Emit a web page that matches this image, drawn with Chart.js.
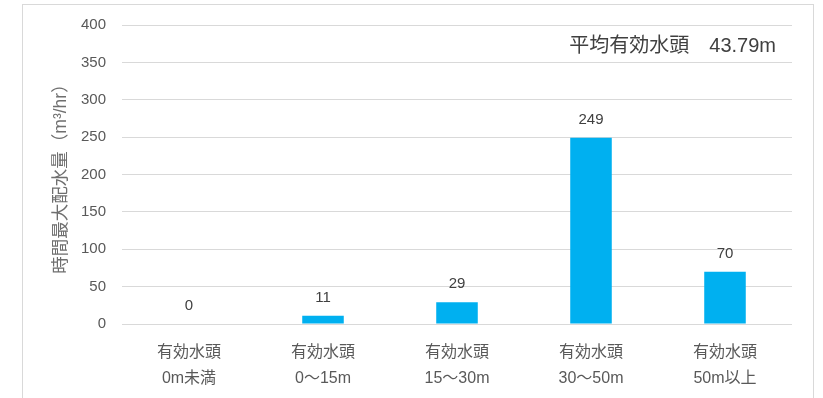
<!DOCTYPE html>
<html>
<head>
<meta charset="utf-8">
<script src="https://cdn.jsdelivr.net/npm/chart.js@4/dist/chart.umd.min.js"></script>
<style>
    body { margin: 0; background: #fff; }
    #wrap { position: relative; width: 823px; height: 398px; }
    #frame {
        position: absolute; left: 22px; top: 4px; width: 792px; height: 400px;
        border: 1px solid #d9d9d9; box-sizing: border-box;
    }
    canvas { position: absolute; left: 0; top: 0; }
</style>
</head>
<body>
<div id="wrap">
    <div id="frame"></div>
    <canvas id="chart" width="823" height="398"></canvas>
</div>
<script>
// chart data
const categories = [
    ['有効水頭', '0m未満'],
    ['有効水頭', '0～15m'],
    ['有効水頭', '15～30m'],
    ['有効水頭', '30～50m'],
    ['有効水頭', '50m以上'],
];
const flowValues = [0, 11, 29, 249, 70];
const yTicks = [0, 50, 100, 150, 200, 250, 300, 350, 400];
const yTitle = '時間最大配水量（m³/hr）';
const noteText = '平均有効水頭　43.79m';

const FONT = "'Liberation Sans', 'Noto Sans CJK JP', sans-serif";

// value labels above bars + note in the top right
const labelPlugin = {
    id: 'labels',
    afterDatasetsDraw(chart) {
        const ctx = chart.ctx;
        const meta = chart.getDatasetMeta(0);
        ctx.save();
        ctx.font = '15px ' + FONT;
        ctx.fillStyle = '#404040';
        ctx.textAlign = 'center';
        ctx.textBaseline = 'middle';
        meta.data.forEach((bar, i) => {
            ctx.fillText(String(flowValues[i]), bar.x, bar.y - 18);
        });
        ctx.font = '20px ' + FONT;
        ctx.textAlign = 'right';
        ctx.fillText(noteText, chart.chartArea.right - 16, 46);
        ctx.restore();
    },
};

const ctx = document.getElementById('chart').getContext('2d');
new Chart(ctx, {
    type: 'bar',
    data: {
        labels: categories,
        datasets: [
            {
                data: flowValues,
                backgroundColor: '#00B0F0',
                barPercentage: 0.31,
                categoryPercentage: 1,
            },
        ],
    },
    options: {
        responsive: false,
        animation: false,
        layout: { padding: { top: 25, right: 31, left: 0, bottom: 0 } },
        plugins: {
            legend: { display: false },
            tooltip: { enabled: false },
        },
        scales: {
            x: {
                grid: { display: false },
                border: { display: false },
                ticks: {
                    color: '#595959',
                    padding: 8,
                    font: { family: FONT, size: 16, lineHeight: 1.625 },
                    maxRotation: 0,
                },
                afterFit(scale) { scale.height = 74; },
            },
            y: {
                min: 0,
                max: 400,
                afterBuildTicks(scale) {
                    scale.ticks = yTicks.map((v) => ({ value: v }));
                },
                grid: { color: '#d9d9d9', drawTicks: false },
                border: { display: false },
                ticks: {
                    color: '#595959',
                    padding: 16,
                    font: { family: FONT, size: 15 },
                },
                title: {
                    display: true,
                    text: yTitle,
                    color: '#6f6f6f',
                    font: { family: FONT, size: 17.5 },
                    padding: { top: 51, bottom: 0 },
                },
                afterFit(scale) { scale.width = 122; },
            },
        },
    },
    plugins: [labelPlugin],
});
</script>
</body>
</html>
